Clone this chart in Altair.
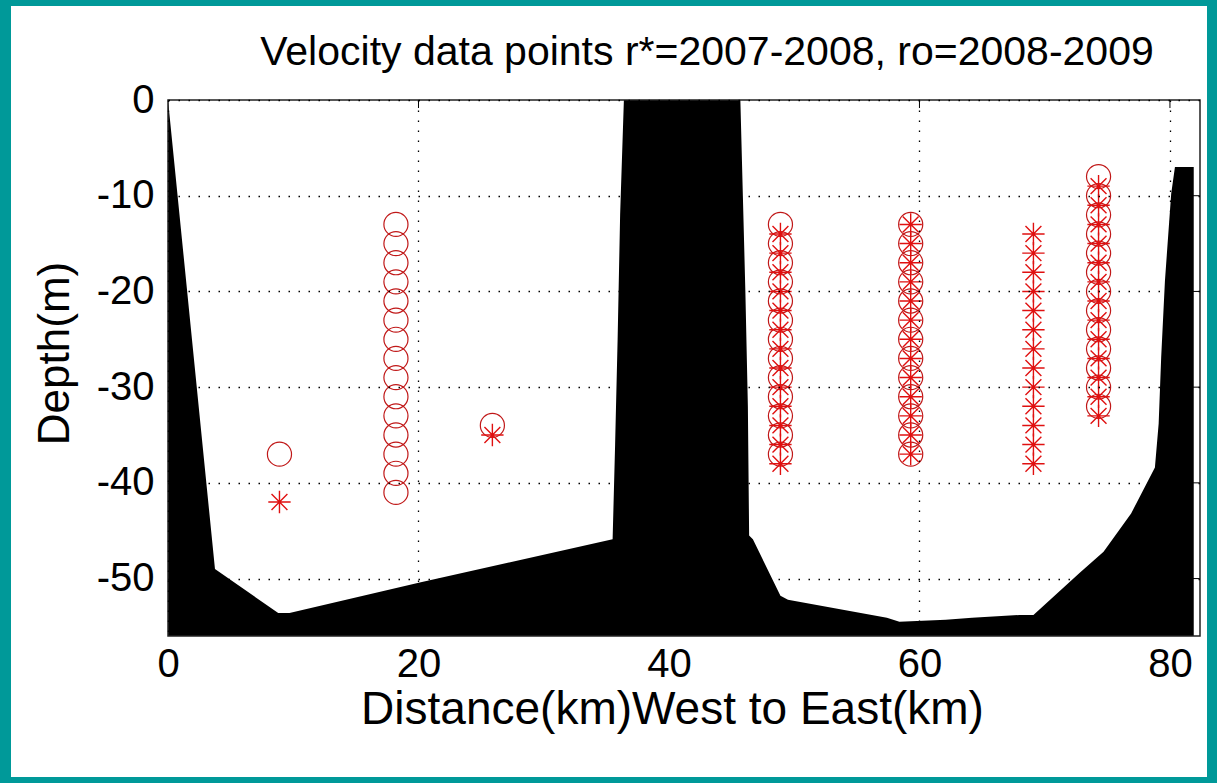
import altair as alt
import pandas as pd

title_text = "Velocity data points r*=2007-2008, ro=2008-2009"
x_title = "Distance(km)West to East(km)"
y_title = "Depth(m)"

x_ticks = [0, 20, 40, 60, 80]
y_ticks = [0, -10, -20, -30, -40, -50]
x_domain = [0, 82.4]
y_domain = [-56, 0]

# bathymetry (top of the black bottom/land profile)
bathy_x = [0, 3.75, 8.8, 9.7, 20.1, 35.5, 35.7, 35.9, 36.1, 36.4,
           45.7, 45.9, 46.1, 46.3, 46.4, 46.7, 48.9, 49.5, 57.4, 58.4,
           62.1, 64.2, 68.0, 69.1, 72.8, 74.7, 76.9, 78.8, 79.1, 79.3,
           79.6, 80.1, 80.4, 81.9]
bathy_depth = [0, -49, -53.6, -53.6, -50.4, -45.9, -36, -25, -12, 0,
               0, -10, -20, -32, -45.5, -45.9, -51.8, -52.2, -54.1, -54.5,
               -54.3, -54.1, -53.8, -53.8, -49.4, -47.2, -43.2, -38.4, -33.8, -26.9,
               -18.9, -9.8, -7.0, -7.0]

# r* = 2007-2008 (asterisks)
star_x = [8.9, 25.9, 48.9, 59.3, 69.1, 74.3]
star_depths = [
    [-42],
    [-35],
    [-14, -16, -18, -20, -22, -24, -26, -28, -30, -32, -34, -36, -38],
    [-13, -15, -17, -19, -21, -23, -25, -27, -29, -31, -33, -35, -37],
    [-14, -16, -18, -20, -22, -24, -26, -28, -30, -32, -34, -36, -38],
    [-9, -11, -13, -15, -17, -19, -21, -23, -25, -27, -29, -31, -33],
]

# ro = 2008-2009 (circles)
circle_x = [8.9, 18.2, 25.9, 48.9, 59.3, 74.3]
circle_depths = [
    [-37],
    [-13, -15, -17, -19, -21, -23, -25, -27, -29, -31, -33, -35, -37, -39, -41],
    [-34],
    [-13, -15, -17, -19, -21, -23, -25, -27, -29, -31, -33, -35, -37],
    [-13, -15, -17, -19, -21, -23, -25, -27, -29, -31, -33, -35, -37],
    [-8, -10, -12, -14, -16, -18, -20, -22, -24, -26, -28, -30, -32],
]

W, H = 1032, 536
FONT = "Liberation Sans"

bathy_df = pd.DataFrame({"x": bathy_x, "depth": bathy_depth})
stars_df = pd.DataFrame(
    [{"x": xv, "depth": d} for xv, ds in zip(star_x, star_depths) for d in ds])
circles_df = pd.DataFrame(
    [{"x": xv, "depth": d} for xv, ds in zip(circle_x, circle_depths) for d in ds])
xt_df = pd.DataFrame({"x": x_ticks[1:]})
yt_df = pd.DataFrame({"depth": y_ticks[1:]})
one_df = pd.DataFrame({"k": [0]})

x_enc = alt.X("x:Q", title=x_title,
              scale=alt.Scale(domain=x_domain, nice=False, zero=False),
              axis=alt.Axis(values=x_ticks, labelExpr="datum.value + ''",
                            labelPadding=8, titlePadding=3, zindex=1,
                            titleFontSize=46, titleX=504,
                            labelFlush=False, labelOverlap=False))
y_enc = alt.Y("depth:Q", title=y_title,
              scale=alt.Scale(domain=y_domain, nice=False, zero=False),
              axis=alt.Axis(values=y_ticks, labelExpr="datum.value + ''",
                            labelPadding=14, titlePadding=19, zindex=1,
                            titleFontSize=44, titleY=253,
                            labelFlush=False, labelOverlap=False))

bg = alt.Chart(one_df).mark_rect(fill="white", stroke=None).encode(
    x=alt.value(-157), x2=alt.value(1039), y=alt.value(-94), y2=alt.value(677))

title = alt.Chart(one_df).mark_text(
    font=FONT, fontSize=41, color="black", align="center",
    baseline="alphabetic").encode(
    x=alt.value(539), y=alt.value(-35), text=alt.value(title_text))

area = alt.Chart(bathy_df).mark_area(color="black", clip=True,
                                      interpolate="linear").encode(
    x=x_enc, y=y_enc, y2=alt.datum(-56))

circles = alt.Chart(circles_df).mark_point(
    shape="circle", filled=False, size=580, stroke="#c01818", strokeWidth=1.2,
    opacity=1).encode(x=x_enc, y=y_enc)

star_path = "M-1,0L1,0M0,-1L0,1M-0.71,-0.71L0.71,0.71M-0.71,0.71L0.71,-0.71"
stars = alt.Chart(stars_df).mark_point(
    shape=star_path, filled=False, size=500, stroke="#e01010", strokeWidth=1.4,
    opacity=1).encode(x=x_enc, y=y_enc)

tick_len = 8
xt_top = alt.Chart(xt_df).mark_rule(color="black", strokeWidth=1).encode(
    x=x_enc, y=alt.value(0), y2=alt.value(tick_len))
xt_bot = alt.Chart(xt_df).mark_rule(color="black", strokeWidth=1).encode(
    x=x_enc, y=alt.value(H), y2=alt.value(H - tick_len))
yt_left = alt.Chart(yt_df).mark_rule(color="black", strokeWidth=1).encode(
    y=y_enc, x=alt.value(0), x2=alt.value(tick_len))
yt_right = alt.Chart(yt_df).mark_rule(color="black", strokeWidth=1).encode(
    y=y_enc, x=alt.value(W), x2=alt.value(W - tick_len))

frame = alt.Chart(one_df).mark_rect(fill=None, stroke="#222222",
                                    strokeWidth=1.5).encode(
    x=alt.value(0), x2=alt.value(W), y=alt.value(0), y2=alt.value(H))

chart = alt.layer(bg, title, area, circles, stars, xt_top, xt_bot, yt_left,
                  yt_right, frame).properties(
    width=W, height=H,
    background="#009999",
    padding={"left": 168, "top": 100, "right": 17, "bottom": 147},
    autosize=alt.AutoSizeParams(type="none"),
).configure_view(stroke=None, fill="white").configure_axis(
    labelFont=FONT, labelFontSize=40, labelColor="black",
    titleFont=FONT, titleColor="black", titleFontWeight="normal",
    tickSize=0, domain=False, grid=True, gridColor="black", gridOpacity=1,
    gridDash=[1.5, 8.5], gridWidth=1.3,
)

chart.save("out.html", embed_options={"renderer": "svg", "actions": False})
